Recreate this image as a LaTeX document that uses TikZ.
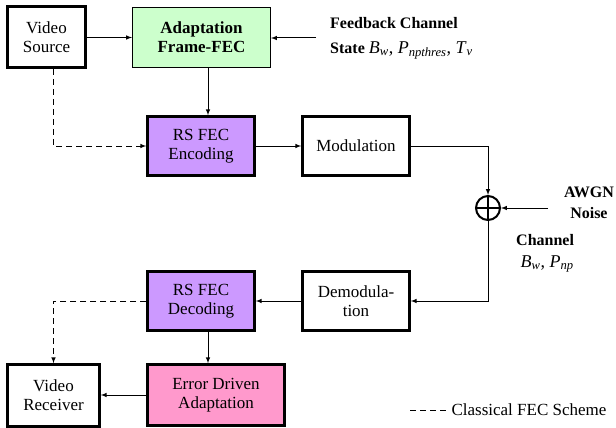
\documentclass[tikz,border=0pt]{standalone}
\usepackage{fontspec}
\setmainfont{Liberation Serif}
\usetikzlibrary{arrows, positioning}
\definecolor{adaptgreen}{RGB}{204,255,204}
\definecolor{fecpurple}{RGB}{204,153,255}
\definecolor{errpink}{RGB}{255,153,204}
\newcommand{\chvar}[2]{\textit{#1}\textsubscript{\textit{#2}}}

\begin{document}
\begin{tikzpicture}[x=1pt, y=1pt, >=latex,
    box/.style={rectangle, draw, align=center, inner sep=0pt, font=\fontsize{17}{19}\selectfont},
    thickbox/.style={box, line width=2.6pt},
    thinbox/.style={box, line width=1pt},
    link/.style={->, line width=1pt},
    classic/.style={->, line width=1pt, dash pattern=on 6pt off 4pt},
    label/.style={inner sep=0pt, align=left, font=\fontsize{16}{24}\selectfont}]

\useasboundingbox (0,0) rectangle (616,-428);

% transmitter side
\node [thickbox, minimum width=78pt, minimum height=61pt] (vsrc) at (46.5,-37) {Video\\Source};
\node [thinbox, fill=adaptgreen, minimum width=138pt, minimum height=60pt, font=\fontsize{17}{19}\selectfont\bfseries] (adapt) at (201.5,-37.5) {Adaptation\\Frame-FEC};
\node [thickbox, fill=fecpurple, minimum width=107pt, minimum height=59pt] (enc) at (201,-146) {RS FEC\\Encoding};
\node [thickbox, minimum width=107pt, minimum height=59pt] (mod) at (356,-146) {Modulation};
\node [circle, draw, line width=2pt, minimum size=24pt, inner sep=0pt] (sum) at (488,-208) {};

% receiver side
\node [thickbox, minimum width=107pt, minimum height=59pt] (demod) at (356,-301) {Demodula-\\tion};
\node [thickbox, fill=fecpurple, minimum width=107pt, minimum height=59pt] (dec) at (201,-301) {RS FEC\\Decoding};
\node [thickbox, fill=errpink, minimum width=137pt, minimum height=61pt] (eda) at (216,-395) {Error Driven\\Adaptation};
\node [thickbox, minimum width=92pt, minimum height=62pt] (vrec) at (53.5,-395.5) {Video\\Receiver};

% labels
\node [label, anchor=north west, font=\fontsize{16}{25}\selectfont\bfseries] (fb) at (330,-17) {Feedback Channel\\State \mdseries\fontsize{18}{25}\selectfont\chvar{B}{w}, \chvar{P}{npthres}, \chvar{T}{v}};
\node [label, anchor=north east, align=center, font=\fontsize{16}{21}\selectfont\bfseries] (awgn) at (614,-187) {AWGN\\Noise};
\node [label, anchor=north west, font=\fontsize{16}{22}\selectfont\bfseries] (chan) at (516,-234) {Channel\\\mdseries\fontsize{18}{22}\selectfont\ \chvar{B}{w}, \chvar{P}{np}};
\node [anchor=west, font=\fontsize{17}{19}\selectfont] (legend) at (448,-410) {Classical FEC Scheme};

\coordinate (fbin) at (316,-38);
\coordinate (noisein) at (548,-208);
\coordinate (legstart) at (410,-410);

% plus sign in the adder
\draw [line width=2pt] (sum.north) -- (sum.south);
\draw [line width=2pt] (sum.west) -- (sum.east);

% connectors
\draw [link] (vsrc.east |- adapt.west) -- (adapt.west);
\draw [link] (fbin) -- (fbin -| adapt.east);
\draw [link] ([xshift=6.5pt]adapt.south) -- ([xshift=6.5pt]adapt.south |- enc.north);
\draw [classic] (vsrc.south -| vrec.north) |- (enc.west);
\draw [link] (enc.east) -- (mod.west);
\draw [link] (mod.east) -| (sum.north);
\draw [link] (noisein) -- (sum.east);
\draw [link] (sum.south) |- (demod.east);
\draw [link] (demod.west) -- (dec.east);
\draw [classic] (dec.west) -| (vrec.north);
\draw [link] ([xshift=7pt]dec.south) -- ([xshift=7pt]dec.south |- eda.north);
\draw [link] (eda.west) -- (eda.west -| vrec.east);
\draw [line width=1pt, dash pattern=on 6pt off 4pt] (legstart) -- (legend.west);
\end{tikzpicture}
\end{document}
